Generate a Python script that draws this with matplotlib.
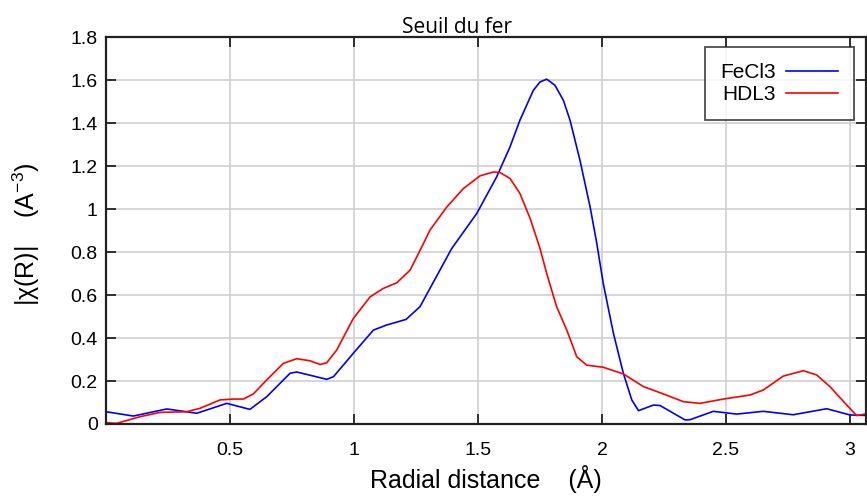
import matplotlib
matplotlib.use("Agg")
import matplotlib.pyplot as plt
from matplotlib.ticker import FuncFormatter

# FeCl3 (blue)
fecl3_r = [0.0, 0.11, 0.245, 0.366, 0.487, 0.58, 0.648, 0.742, 0.769, 0.89, 0.917,
           0.997, 1.078, 1.13, 1.21, 1.266, 1.394, 1.495, 1.575, 1.629, 1.669,
           1.723, 1.75, 1.777, 1.81, 1.844, 1.871, 1.911, 1.952, 1.979, 2.005,
           2.046, 2.086, 2.12, 2.147, 2.207, 2.234, 2.288, 2.335, 2.355, 2.449,
           2.543, 2.65, 2.771, 2.906, 3.0, 3.06]
fecl3_chi = [0.057, 0.037, 0.07, 0.05, 0.096, 0.068, 0.127, 0.236, 0.242, 0.208, 0.22,
             0.329, 0.437, 0.46, 0.487, 0.546, 0.817, 0.98, 1.15, 1.29, 1.414,
             1.553, 1.592, 1.605, 1.577, 1.507, 1.414, 1.228, 1.01, 0.84, 0.654,
             0.422, 0.236, 0.112, 0.062, 0.088, 0.086, 0.05, 0.019, 0.02, 0.059,
             0.046, 0.059, 0.043, 0.071, 0.042, 0.04]

# HDL3 (red)
hdl3_r = [0.0, 0.043, 0.137, 0.218, 0.325, 0.379, 0.46, 0.513, 0.554, 0.594, 0.648,
          0.715, 0.769, 0.823, 0.863, 0.89, 0.93, 0.997, 1.065, 1.118, 1.172,
          1.226, 1.28, 1.306, 1.374, 1.441, 1.508, 1.562, 1.589, 1.629, 1.669,
          1.71, 1.75, 1.777, 1.817, 1.858, 1.898, 1.938, 2.005, 2.086, 2.167,
          2.247, 2.328, 2.395, 2.489, 2.597, 2.65, 2.731, 2.812, 2.866, 2.919,
          2.987, 3.027, 3.06]
hdl3_chi = [0.006, 0.003, 0.034, 0.054, 0.057, 0.073, 0.112, 0.116, 0.116, 0.14, 0.205,
            0.282, 0.304, 0.294, 0.277, 0.285, 0.344, 0.491, 0.592, 0.631, 0.657,
            0.716, 0.84, 0.902, 1.01, 1.096, 1.155, 1.173, 1.17, 1.143, 1.073,
            0.957, 0.817, 0.7, 0.546, 0.437, 0.313, 0.274, 0.264, 0.233, 0.174,
            0.14, 0.104, 0.096, 0.116, 0.135, 0.158, 0.223, 0.248, 0.228, 0.174,
            0.088, 0.039, 0.046]

x_ticks = [0.5, 1, 1.5, 2, 2.5, 3]
y_ticks = [0, 0.2, 0.4, 0.6, 0.8, 1, 1.2, 1.4, 1.6, 1.8]

plt.rcParams['font.family'] = ['Liberation Sans', 'DejaVu Sans']
plt.rcParams['mathtext.fontset'] = 'custom'
plt.rcParams['mathtext.rm'] = 'Liberation Sans'
plt.rcParams['mathtext.it'] = 'Liberation Sans'

fig = plt.figure(figsize=(8.67, 4.97), dpi=100)
ax = fig.add_axes([0.1223, 0.1469, 0.8767, 0.7781])

ax.plot(fecl3_r, fecl3_chi, color='#0000ff', lw=1.2, label='FeCl3')
ax.plot(hdl3_r, hdl3_chi, color='#ff0000', lw=1.2, label='HDL3')

ax.set_xlim(0, 3.065)
ax.set_ylim(0, 1.8)
ax.set_xticks(x_ticks)
ax.set_yticks(y_ticks)
fmt = FuncFormatter(lambda v, p: ('%g' % round(v, 2)))
ax.xaxis.set_major_formatter(fmt)
ax.yaxis.set_major_formatter(fmt)
ax.grid(True, color='#d0d0d0', lw=1.2)
ax.set_axisbelow(True)
ax.tick_params(direction='in', length=7.5, width=1.3, top=True, right=True,
               labelsize=14, pad=6, colors='#222222', labelcolor='black')
ax.tick_params(axis='x', pad=13)
for s in ax.spines.values():
    s.set_linewidth(1.6)
    s.set_color('#222222')

ax.set_title('Seuil du fer', fontsize=15, fontfamily='Open Sans', pad=3, x=0.462)
ax.set_xlabel('Radial distance    (\u00c5)', fontsize=18, labelpad=4)
ax.set_ylabel('|\u03c7(R)|    (A$^{\\mathrm{-3}}$)', fontsize=18)
ax.yaxis.set_label_coords(-0.084, 0.49)

leg = ax.legend(loc='upper right', markerfirst=False, fontsize=15, frameon=True,
                fancybox=False, edgecolor='#222222', borderpad=0.75,
                handlelength=2.5, bbox_to_anchor=(0.984, 0.974), borderaxespad=0,
                labelspacing=0.15, handletextpad=0.5)
leg.get_frame().set_linewidth(1.3)
for t in leg.get_texts():
    t.set_ha('right')

fig.savefig('out.png', dpi=100)
